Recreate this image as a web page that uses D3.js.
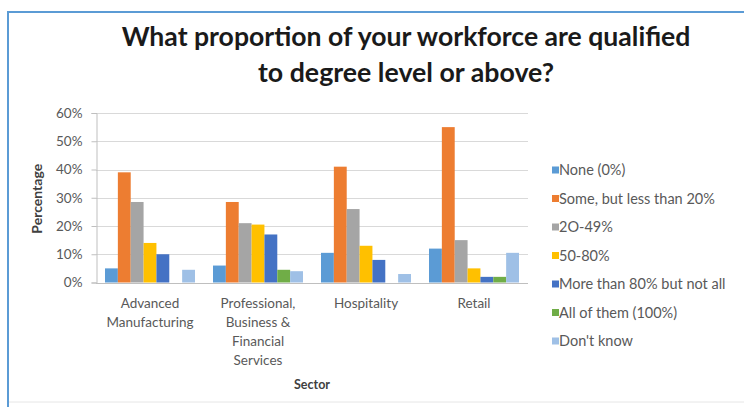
<!DOCTYPE html>
<html>
<head>
<meta charset="utf-8">
<script src="https://cdn.jsdelivr.net/npm/d3@7"></script>
<style>
  html, body { margin: 0; padding: 0; background: #fff; }
  svg { display: block; font-family: Lato, "Open Sans", sans-serif; }
</style>
</head>
<body>
<svg id="chart" width="744" height="407"></svg>
<script>
// Survey answers per sector (percent of respondents)
const sectors = [
  ["Advanced", "Manufacturing"],
  ["Professional,", "Business &", "Financial", "Services"],
  ["Hospitality"],
  ["Retail"]
];
const seriesNames = [
  "None (0%)",
  "Some, but less than 20%",
  "2O-49%",
  "50-80%",
  "More than 80% but not all",
  "All of them (100%)",
  "Don't know"
];
const none        = [5, 6, 10.5, 12];
const someLess20  = [39, 28.5, 41, 55];
const from20to49  = [28.5, 21, 26, 15];
const from50to80  = [14, 20.5, 13, 5];
const moreThan80  = [10, 17, 8, 2];
const allOfThem   = [0, 4.5, 0, 2];
const dontKnow    = [4.5, 4, 3, 10.5];
const yTicks = [0, 10, 20, 30, 40, 50, 60];

const seriesValues = [none, someLess20, from20to49, from50to80, moreThan80, allOfThem, dontKnow];
const colors = ["#5b9bd5", "#ed7d31", "#a5a5a5", "#ffc000", "#4472c4", "#70ad47", "#9fc0e6"];

const svg = d3.select("#chart");

// Outer frame
svg.append("line").attr("x1", 8).attr("x2", 744).attr("y1", 12).attr("y2", 12)
  .attr("stroke", "#5b9bd5").attr("stroke-width", 2);
svg.append("line").attr("x1", 8).attr("x2", 8).attr("y1", 11).attr("y2", 407)
  .attr("stroke", "#5b9bd5").attr("stroke-width", 2);
svg.append("line").attr("x1", 9).attr("x2", 744).attr("y1", 402).attr("y2", 402)
  .attr("stroke", "#e6e6e6").attr("stroke-width", 1);

// Title, scaled so each line spans its width
const titleLines = [
  { text: "What proportion of your workforce are qualified", y: 46, width: 569 },
  { text: "to degree level or above?", y: 82, width: 296 }
];
const titleG = svg.append("g");
titleLines.forEach(l => {
  const t = titleG.append("text")
    .attr("x", 406).attr("y", l.y)
    .attr("text-anchor", "middle")
    .attr("font-weight", "bold")
    .attr("font-size", 24)
    .attr("fill", "#1a1a1a")
    .text(l.text);
  const w = t.node().getComputedTextLength();
  t.attr("font-size", 24 * l.width / w);
});

// Plot area
const plot = { left: 96, right: 528, top: 113, bottom: 282.5 };

const x0 = d3.scaleBand()
  .domain(d3.range(sectors.length))
  .range([plot.left, plot.right])
  .paddingInner(1 / 6)
  .paddingOuter(1 / 12);

const x1 = d3.scaleBand()
  .domain(d3.range(seriesNames.length))
  .range([0, x0.bandwidth()])
  .padding(0);

const y = d3.scaleLinear().domain([0, 60]).range([plot.bottom, plot.top]);

// Gridlines
svg.append("g")
  .selectAll("line")
  .data(yTicks)
  .join("line")
  .attr("x1", plot.left).attr("x2", plot.right)
  .attr("y1", d => Math.round(y(d)) + 0.5).attr("y2", d => Math.round(y(d)) + 0.5)
  .attr("stroke", "#d9d9d9").attr("stroke-width", 1);

// Y axis
const yAxis = d3.axisLeft(y)
  .tickValues(yTicks)
  .tickFormat(d => d + "%")
  .tickSize(5)
  .tickPadding(9);
const yg = svg.append("g")
  .attr("transform", `translate(${plot.left + 0.5},0)`)
  .call(yAxis);
yg.select(".domain").attr("stroke", "#bfbfbf");
yg.selectAll(".tick line").attr("stroke", "#bfbfbf");
yg.selectAll(".tick text")
  .attr("font-family", "Lato, sans-serif")
  .attr("font-size", 13.5)
  .attr("fill", "#595959");

// Bars
const groups = svg.append("g")
  .selectAll("g")
  .data(sectors.map((s, i) => i))
  .join("g")
  .attr("transform", i => `translate(${x0(i)},0)`);

groups.selectAll("rect")
  .data(i => seriesValues.map((vals, s) => ({ s, v: vals[i] })))
  .join("rect")
  .attr("x", d => x1(d.s))
  .attr("width", x1.bandwidth())
  .attr("y", d => y(d.v))
  .attr("height", d => y(0) - y(d.v))
  .attr("fill", d => colors[d.s]);

// X axis baseline
svg.append("line")
  .attr("x1", plot.left).attr("x2", plot.right)
  .attr("y1", Math.round(y(0)) + 0.5).attr("y2", Math.round(y(0)) + 0.5)
  .attr("stroke", "#bfbfbf");

// Category labels (multi-line)
const catG = svg.append("g");
sectors.forEach((lines, i) => {
  const t = catG.append("text")
    .attr("text-anchor", "middle")
    .attr("font-size", 13.5)
    .attr("fill", "#595959");
  lines.forEach((line, k) => {
    t.append("tspan")
      .attr("x", x0(i) + x0.bandwidth() / 2)
      .attr("y", 308 + k * 19)
      .text(line);
  });
});

// Axis titles
svg.append("text")
  .attr("x", (plot.left + plot.right) / 2)
  .attr("y", 389)
  .attr("text-anchor", "middle")
  .attr("font-weight", "bold")
  .attr("font-size", 12.5)
  .attr("fill", "#404040")
  .text("Sector");

svg.append("text")
  .attr("transform", `translate(42,${(plot.top + plot.bottom) / 2 + 1}) rotate(-90)`)
  .attr("text-anchor", "middle")
  .attr("font-weight", "bold")
  .attr("font-size", 14)
  .attr("fill", "#404040")
  .text("Percentage");

// Legend
const legend = svg.append("g")
  .selectAll("g")
  .data(seriesNames)
  .join("g")
  .attr("transform", (d, i) => `translate(552,${170 + i * 28.5})`);
legend.append("rect")
  .attr("x", 0).attr("y", -3.5)
  .attr("width", 7).attr("height", 7)
  .attr("fill", (d, i) => colors[i]);
legend.append("text")
  .attr("x", 7)
  .attr("y", 5)
  .attr("font-size", 14.5)
  .attr("fill", "#595959")
  .text(d => d);
</script>
</body>
</html>
